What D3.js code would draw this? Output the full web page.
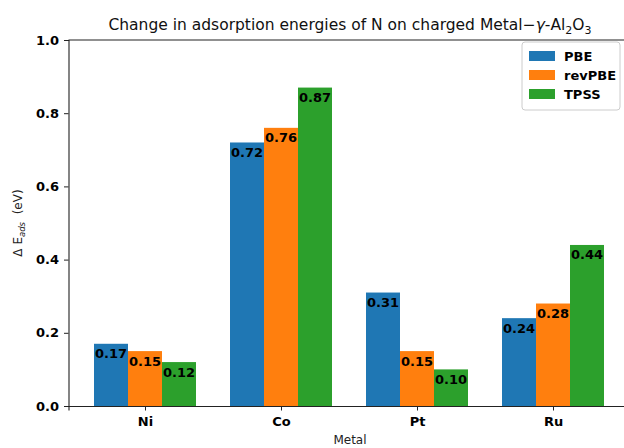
<!DOCTYPE html>
<html>
<head>
<meta charset="utf-8">
<script src="https://cdn.jsdelivr.net/npm/d3@7"></script>
<style>
  html, body { margin: 0; padding: 0; background: #fff; }
  svg { display: block; font-family: "DejaVu Sans", sans-serif; }
</style>
</head>
<body>
<svg id="chart" width="624" height="448"></svg>
<script>
// Metals on the x axis and the three functionals compared
const metals = ["Ni", "Co", "Pt", "Ru"];
const methods = ["PBE", "revPBE", "TPSS"];
const pbe = [0.17, 0.72, 0.31, 0.24];
const revpbe = [0.15, 0.76, 0.15, 0.28];
const tpss = [0.12, 0.87, 0.10, 0.44];
const yTicks = [0.0, 0.2, 0.4, 0.6, 0.8, 1.0];
const colors = ["#1f77b4", "#ff7f0e", "#2ca02c"];

const seriesValues = [pbe, revpbe, tpss];

const svg = d3.select("#chart");
const margin = { left: 68.5, top: 40, bottom: 406 };
const plotRight = 629.5;

// numeric x scale mirroring category index with bar-group padding
const x = d3.scaleLinear().domain([-0.5625, 3.5625]).range([margin.left, plotRight]);
const y = d3.scaleLinear().domain([0, 1]).range([margin.bottom, margin.top]);
const barW = 0.25;

// bars
methods.forEach((m, si) => {
  const g = svg.append("g");
  const vals = seriesValues[si];
  g.selectAll("rect")
    .data(vals)
    .enter().append("rect")
    .attr("x", (d, i) => x(i + (si - 1) * barW - barW / 2))
    .attr("width", (d, i) => x(i + (si - 1) * barW + barW / 2) - x(i + (si - 1) * barW - barW / 2))
    .attr("y", d => y(d))
    .attr("height", d => y(0) - y(d))
    .attr("fill", colors[si]);
  g.selectAll("text")
    .data(vals)
    .enter().append("text")
    .attr("x", (d, i) => x(i + (si - 1) * barW))
    .attr("y", d => y(d) + 14.5)
    .attr("text-anchor", "middle")
    .attr("font-size", 13)
    .attr("font-weight", "bold")
    .attr("fill", "#000")
    .text(d => d.toFixed(2));
});

// y axis
const yAxis = d3.axisLeft(y).tickValues(yTicks).tickFormat(d3.format(".1f")).tickSize(4.5).tickPadding(5);
const yg = svg.append("g").attr("transform", `translate(${margin.left},0)`).call(yAxis);
yg.select(".domain").attr("stroke", "#222").attr("stroke-width", 1.1);
yg.selectAll("text").attr("font-size", 13).attr("font-weight", "bold").attr("fill", "#000")
  .attr("font-family", "DejaVu Sans, sans-serif");
yg.selectAll(".tick line").attr("stroke", "#222");

// x axis
const xAxis = d3.axisBottom(x).tickValues(d3.range(metals.length)).tickFormat(i => metals[i]).tickSize(4.5).tickPadding(6);
const xg = svg.append("g").attr("transform", `translate(0,${margin.bottom})`).call(xAxis);
xg.select(".domain").attr("stroke", "#222").attr("stroke-width", 1.1);
xg.selectAll("text").attr("font-size", 13).attr("font-weight", "bold").attr("fill", "#000")
  .attr("font-family", "DejaVu Sans, sans-serif");
xg.selectAll(".tick line").attr("stroke", "#222");

// top spine
svg.append("line")
  .attr("x1", margin.left).attr("x2", plotRight)
  .attr("y1", margin.top).attr("y2", margin.top)
  .attr("stroke", "#222").attr("stroke-width", 1.1);
// right spine
svg.append("line")
  .attr("x1", plotRight).attr("x2", plotRight)
  .attr("y1", margin.top).attr("y2", margin.bottom)
  .attr("stroke", "#222").attr("stroke-width", 1.1);

// title
const title = svg.append("text")
  .attr("x", 350).attr("y", 30)
  .attr("text-anchor", "middle")
  .attr("font-size", 15.5)
  .attr("fill", "#111");
title.append("tspan").text("Change in adsorption energies of N on charged Metal\u2212");
title.append("tspan").attr("font-style", "italic").text("\u03b3");
title.append("tspan").text("-Al");
title.append("tspan").attr("font-size", 11).attr("dy", 4).text("2");
title.append("tspan").attr("dy", -4).text("O");
title.append("tspan").attr("font-size", 11).attr("dy", 4).text("3");

// y label
const yl = svg.append("text")
  .attr("transform", `translate(22,${(margin.top + margin.bottom) / 2}) rotate(-90)`)
  .attr("text-anchor", "middle")
  .attr("font-size", 12)
  .attr("fill", "#222");
yl.append("tspan").text("\u0394 E");
yl.append("tspan").attr("font-size", 8.5).attr("font-style", "italic").attr("dy", 3).text("ads");
yl.append("tspan").attr("dy", -3).text("\u00a0\u00a0(eV)");

// x label
svg.append("text")
  .attr("x", 350).attr("y", 444)
  .attr("text-anchor", "middle")
  .attr("font-size", 12)
  .attr("fill", "#222")
  .text("Metal");

// legend
const lg = svg.append("g").attr("transform", "translate(522,42)");
lg.append("rect")
  .attr("x", 0).attr("y", 0).attr("width", 98).attr("height", 68)
  .attr("rx", 3)
  .attr("fill", "#fff").attr("fill-opacity", 0.8)
  .attr("stroke", "#ccc");
methods.forEach((m, i) => {
  lg.append("rect")
    .attr("x", 7).attr("y", 9 + i * 19)
    .attr("width", 26).attr("height", 10)
    .attr("fill", colors[i]);
  lg.append("text")
    .attr("x", 42).attr("y", 19 + i * 19)
    .attr("font-size", 13).attr("font-weight", "bold")
    .attr("fill", "#000")
    .text(m);
});
</script>
</body>
</html>
